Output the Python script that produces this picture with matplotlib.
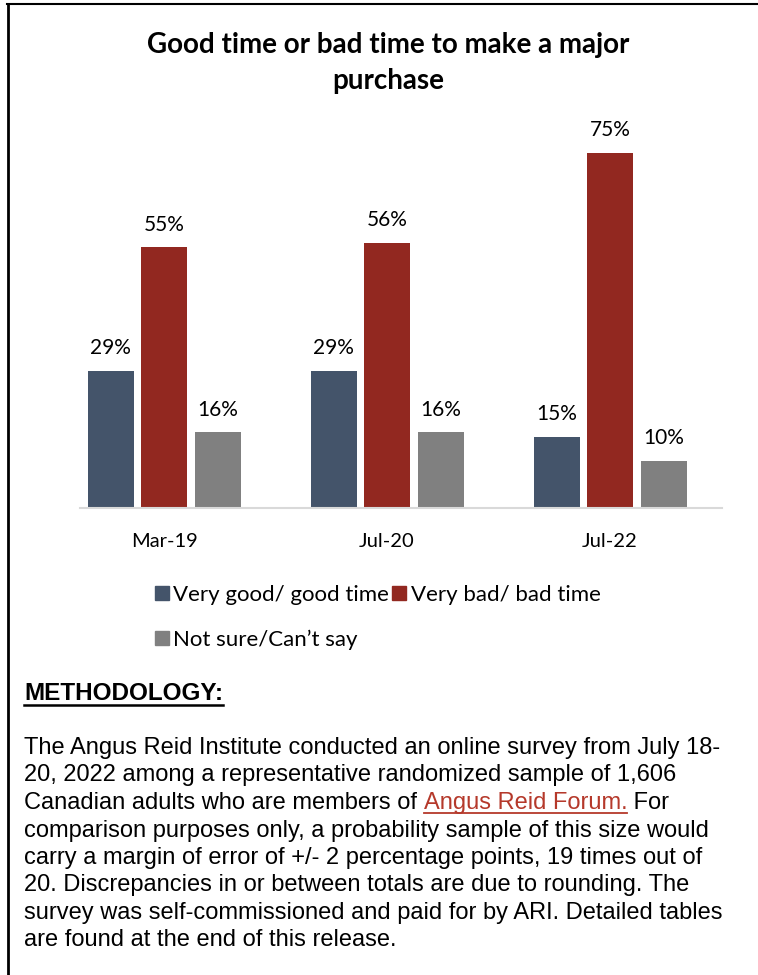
import matplotlib
matplotlib.use('Agg')
import matplotlib.pyplot as plt
from matplotlib.lines import Line2D
from matplotlib.patches import Patch
import numpy as np

# survey waves and shares (%)
periods = ['Mar-19', 'Jul-20', 'Jul-22']
good_time = [29, 29, 15]
bad_time = [55, 56, 75]
not_sure = [16, 16, 10]
series_names = ['Very good/ good time', 'Very bad/ bad time', 'Not sure/Can\u2019t say']
colors = ['#44546A', '#922820', '#808080']

title = 'Good time or bad time to make a major\npurchase'
method_heading = 'METHODOLOGY:'
method_lines = [
    'The Angus Reid Institute conducted an online survey from July 18-',
    '20, 2022 among a representative randomized sample of 1,606',
    None,  # line with the Forum link, built from pieces below
    'comparison purposes only, a probability sample of this size would',
    'carry a margin of error of +/- 2 percentage points, 19 times out of',
    '20. Discrepancies in or between totals are due to rounding. The',
    'survey was self-commissioned and paid for by ARI. Detailed tables',
    'are found at the end of this release.',
]
link_line = ['Canadian adults who are members of ', 'Angus Reid Forum.', ' For']
link_color = '#B5392B'

W, H = 758, 975
fig = plt.figure(figsize=(W / 100, H / 100), dpi=100)
chart_font = 'Lato'
body_font = 'Liberation Sans'


def fy(py):
    return 1 - py / H


# chart area: baseline at y=508, x from 80 to 722
ax = fig.add_axes([80 / W, fy(508), (722 - 80) / W, (508 - 129) / H])
x = np.arange(len(periods))
width = 0.206
offsets = [-0.24, 0, 0.24]
for vals, off, col in zip([good_time, bad_time, not_sure], offsets, colors):
    bars = ax.bar(x + off, vals, width, color=col, zorder=2)
    for b, v in zip(bars, vals):
        ax.annotate(f'{v}%', (b.get_x() + b.get_width() / 2, v),
                    xytext=(0, 9), textcoords='offset points',
                    ha='center', va='bottom', fontsize=15,
                    family=chart_font, color='#000000')

ax.set_xlim(-0.377, 2.502)
ax.set_ylim(0, 80)
ax.set_yticks([])
ax.set_xticks(x, periods, family=chart_font, fontsize=14.5)
ax.tick_params(axis='x', length=0, pad=18)
for s in ['top', 'left', 'right']:
    ax.spines[s].set_visible(False)
ax.spines['bottom'].set_color('#D9D9D9')
ax.spines['bottom'].set_linewidth(1.5)

fig.text(388 / W, fy(63), title, ha='center', va='center',
         fontsize=20, fontweight='bold', family=chart_font,
         linespacing=1.45)

handles = [Patch(color=colors[0], label=series_names[0]),
           Patch(color=colors[2], label=series_names[2]),
           Patch(color=colors[1], label=series_names[1])]
fig.legend(handles=handles, ncol=2, loc='upper left',
           bbox_to_anchor=(155 / W, fy(585)), frameon=False,
           prop={'family': chart_font, 'size': 16},
           handlelength=0.62, handleheight=0.62, handletextpad=0.2,
           columnspacing=0.15, labelspacing=1.1, borderpad=0,
           borderaxespad=0)

# frame around the page
fig.add_artist(Line2D([7 / W, 1], [fy(4), fy(4)], color='black', lw=1.5))
fig.add_artist(Line2D([8 / W, 8 / W], [fy(4), 0], color='black', lw=2))

# methodology block
fig.canvas.draw()
renderer = fig.canvas.get_renderer()
left = 24 / W
head = fig.text(left, fy(693), method_heading, ha='left', va='center',
                fontsize=17.5, fontweight='bold', family=body_font)
bb = head.get_window_extent(renderer)
uy = fy(705)
fig.add_artist(Line2D([bb.x0 / W, bb.x1 / W], [uy, uy], color='black', lw=1.8))

line_y0 = 748
line_gap = 27.5
for i, line in enumerate(method_lines):
    y = fy(line_y0 + i * line_gap)
    if line is not None:
        fig.text(left, y, line, ha='left', va='center', fontsize=17,
                 family=body_font)
        continue
    xpos = left
    for j, piece in enumerate(link_line):
        col = link_color if j == 1 else 'black'
        t = fig.text(xpos, y, piece, ha='left', va='center', fontsize=17,
                     family=body_font, color=col)
        pb = t.get_window_extent(renderer)
        if j == 1:
            ly = (pb.y0 + 1) / H
            fig.add_artist(Line2D([pb.x0 / W, pb.x1 / W], [ly, ly],
                                  color=link_color, lw=1.3))
        xpos = pb.x1 / W

fig.savefig('out.png', dpi=100)
